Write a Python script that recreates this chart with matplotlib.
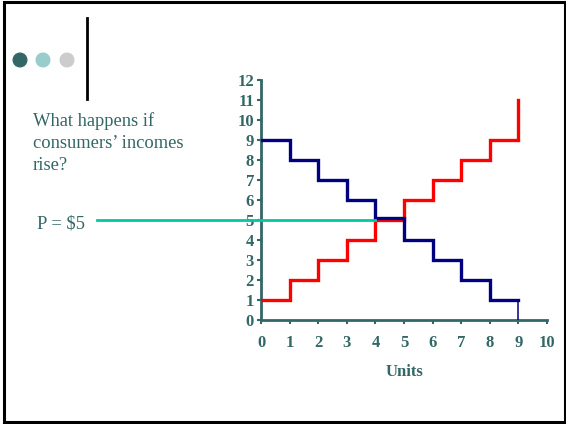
import matplotlib.pyplot as plt
from matplotlib.patches import Circle, Rectangle

# DATA
units = [0, 1, 2, 3, 4, 5, 6, 7, 8, 9]
demand_price = [9, 8, 7, 6, 5.08, 4, 3, 2, 1]
supply_price = [1, 2, 3, 4, 5, 6, 7, 8, 9]
supply_top = 11
price_line = 5
price_qty = 4
x_ticks = list(range(0, 11))
y_ticks = list(range(0, 13))
question = "What happens if\nconsumers\u2019 incomes\nrise?"
price_label = "P = $5"

TEAL = '#336666'
SERIF = ['Liberation Serif', 'DejaVu Serif']

fig = plt.figure(figsize=(5.66, 4.24), dpi=100)

# slide decorations in pixel space
deco = fig.add_axes([0, 0, 1, 1])
deco.set_xlim(0, 566)
deco.set_ylim(424, 0)
deco.axis('off')
deco.add_patch(Rectangle((4, 1.5), 561, 420.5, fill=False, edgecolor='black', linewidth=2.2))
for cx, col in zip([20, 43, 67], ['#336666', '#99cccc', '#cccccc']):
    deco.add_patch(Circle((cx, 60), 6.8, color=col))
deco.plot([87, 87], [18, 99], color='black', linewidth=2)
deco.text(33, 170, question, fontsize=13.3, family=SERIF, color=TEAL,
          va='baseline', ha='left', linespacing=1.37)
deco.text(37, 228, price_label, fontsize=13.3, family=SERIF, color=TEAL,
          va='baseline', ha='left')

# chart
ax = fig.add_axes([261 / 566, 104 / 424, 286 / 566, 240 / 424])
ax.set_xlim(0, 10)
ax.set_ylim(0, 12)

# demand steps
dx, dy = [], []
for i, p in enumerate(demand_price):
    dx += [units[i], units[i + 1]]
    dy += [p, p]
ax.plot(dx, dy, color='#000080', linewidth=2.4, solid_joinstyle='miter', zorder=4)
ax.plot([units[-1], units[-1]], [demand_price[-1], 0], color='#000080', linewidth=1.1, zorder=4)

# supply steps
sx, sy = [], []
for i, p in enumerate(supply_price):
    sx += [units[i], units[i + 1]]
    sy += [p, p]
sx.append(units[-1])
sy.append(supply_top)
ax.plot(sx, sy, color='#ff0000', linewidth=2.4, solid_joinstyle='miter', zorder=3)

# price line from the text to the curve
start = ax.transData.inverted().transform(fig.transFigure.transform((97 / 566, 0)))[0]
ax.plot([start, price_qty], [price_line, price_line], color='#00c8a0',
        linewidth=2, clip_on=False, zorder=5)

for side in ['top', 'right']:
    ax.spines[side].set_visible(False)
for side in ['left', 'bottom']:
    ax.spines[side].set_color(TEAL)
    ax.spines[side].set_linewidth(2)
ax.set_xticks(x_ticks)
ax.set_yticks(y_ticks)
ax.tick_params(axis='both', colors=TEAL, length=3, width=1.5, direction='out')
ax.tick_params(axis='x', pad=8)
ax.tick_params(axis='y', pad=2)
for lab in ax.get_xticklabels() + ax.get_yticklabels():
    lab.set_fontfamily(SERIF)
    lab.set_fontweight('bold')
    lab.set_fontsize(12)
    lab.set_color(TEAL)
ax.set_xlabel('Units', fontsize=12, fontweight='bold', family=SERIF, color=TEAL, labelpad=9)

fig.savefig('out.png', dpi=100)
